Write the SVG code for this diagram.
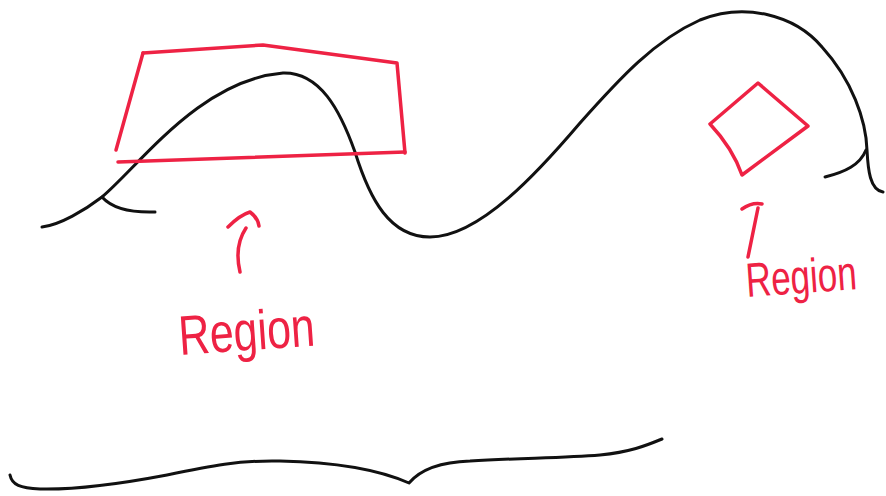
<svg xmlns="http://www.w3.org/2000/svg" width="886" height="496" viewBox="0 0 886 496">
<style>
.ink{fill:none;stroke:#111;stroke-width:3;stroke-linecap:round;stroke-linejoin:round}
.red{fill:none;stroke:#ee2244;stroke-width:3.5;stroke-linecap:round;stroke-linejoin:round}
.lbl{fill:#ee2244;font-family:"Liberation Sans",Arial,sans-serif}
</style>
<rect width="886" height="496" fill="#fff"/>
<g id="curve">
<path class="ink" d="M42,227 C60,225 85,210 102,197 C140,165 200,80 283,73 C320,72 340,110 355,152 C370,200 390,237 430,237 C480,237 540,170 580,123 C620,78 655,40 700,20 C745,2 795,15 822,47 C852,80 866,120 867,150 C868,170 870,190 883,192"/>
<path class="ink" d="M102,197 C110,206 125,213 155,212"/>
<path class="ink" d="M866,150 C860,165 845,172 825,177"/>
</g>
<g id="region-left">
<path class="red" d="M143,53 L263,45 L397,63 L405,153"/>
<path class="red" d="M143,53 L116,150"/>
<path class="red" d="M118,162 L405,152"/>
</g>
<g id="region-right">
<path class="red" d="M758,83 L808,126 L742,175 C735,155 725,140 710,124 Z"/>
</g>
<g id="label-left">
<path class="red" d="M240,272 C236,255 238,240 246,228"/>
<path class="red" d="M228,227 Q240,215 250,212 Q258,218 259,226"/>
<text class="lbl" x="0" y="0" font-size="43" transform="translate(180 355) rotate(-4) scale(1 1.3)">Region</text>
</g>
<g id="label-right">
<path class="red" d="M748,257 L758,208"/>
<path class="red" d="M742,209 Q752,202 762,204"/>
<text class="lbl" x="0" y="0" font-size="35" transform="translate(747 297) rotate(-4) scale(1 1.38)">Region</text>
</g>
<g id="brace">
<path class="ink" d="M10,475 C12,485 20,488 40,489 C80,490 130,482 167,475 C210,466 240,460 280,461 C330,462 375,468 409,483 C420,470 440,462 470,461 C520,458 563,458 600,455 C630,452 645,446 662,439"/>
</g>
</svg>
